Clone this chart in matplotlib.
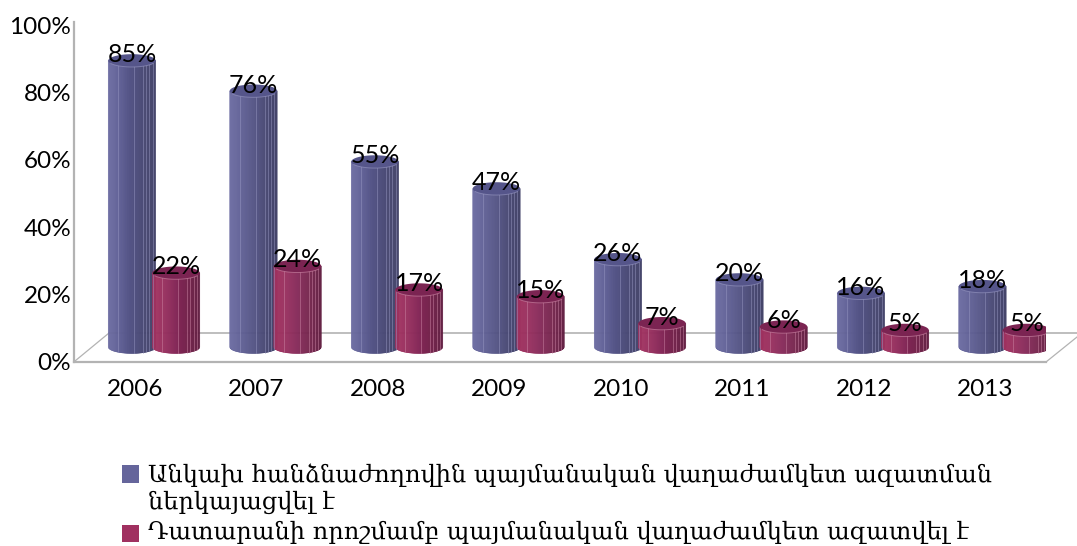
import numpy as np
import matplotlib
matplotlib.use("Agg")
import matplotlib.pyplot as plt
from matplotlib.collections import PolyCollection
from matplotlib.colors import LinearSegmentedColormap
from matplotlib.legend_handler import HandlerPatch
from matplotlib.lines import Line2D
from matplotlib.patches import Patch, Polygon, Rectangle

years = ["2006", "2007", "2008", "2009", "2010", "2011", "2012", "2013"]
commission = [85, 76, 55, 47, 26, 20, 16, 18]
court = [22, 24, 17, 15, 7, 6, 5, 5]
series_names = [
    "Անկախ հանձնաժողովին պայմանական վաղաժամկետ ազատման\nներկայացվել է",
    "Դատարանի որոշմամբ պայմանական վաղաժամկետ ազատվել է",
]

W, H = 1077, 546
fig = plt.figure(figsize=(W / 100, H / 100), dpi=100, facecolor="white")
L, R, T, B = 74, 1046, 22, 362
ax = fig.add_axes([L / W, 1 - B / H, (R - L) / W, (B - T) / H])
ax.patch.set_alpha(0)
ax.set_xlim(-0.5, 7.5)
ax.set_ylim(0, 100.9)

FONT = "Lato"
GREY = "#b3b3b3"
BASE = 4.45      # raised floor of the columns, in axis units
RY = 1.9         # half height of the ellipses, in axis units
WIDTH = 0.39     # column width, in category units
STRIPES = np.linspace(0, 1, 49)
HIGHLIGHTS = [0.21, 0.55, 0.74, 0.80, 0.87, 0.94]

blue = LinearSegmentedColormap.from_list("b", ["#6d6da3", "#5f5f95", "#535384", "#474772", "#3f3f66"])
red = LinearSegmentedColormap.from_list("r", ["#a3315f", "#99305f", "#852858", "#74234c", "#5f1c40"])


def cylinder(cx, value, cmap, top_color, rim):
    rx = WIDTH / 2
    top = BASE + value
    polys, cols = [], []
    fr = np.linspace(0, 1, 7)
    for a, b in zip(STRIPES[:-1], STRIPES[1:]):
        f = a + (b - a) * fr
        u = 2 * f - 1
        xs = cx + rx * u
        low = BASE - RY * np.sqrt(np.clip(1 - u ** 2, 0, 1))
        polys.append(np.r_[np.c_[xs, low], [[xs[-1], top], [xs[0], top]]])
        cols.append(cmap((a + b) / 2))
    ax.add_collection(PolyCollection(polys, facecolors=cols, edgecolors=cols, linewidths=0.4, zorder=3))
    for h in HIGHLIGHTS:
        u = 2 * h - 1
        x = cx + rx * u
        y0 = BASE - RY * np.sqrt(1 - u ** 2)
        ax.plot([x, x], [y0, top], color=rim, lw=0.6, alpha=0.55, zorder=3.1)
    t = np.linspace(0, 2 * np.pi, 80)
    ax.add_patch(Polygon(np.c_[cx + rx * np.cos(t), top + RY * np.sin(t)],
                         closed=True, facecolor=top_color, edgecolor="none", zorder=3.2))
    t2 = np.linspace(np.pi * 1.15, np.pi * 1.85, 30)
    ax.plot(cx + rx * np.cos(t2), top + RY * np.sin(t2), color=rim, lw=0.7, alpha=0.6, zorder=3.3)


x = np.arange(len(years))
for i in x:
    cylinder(i - 0.023, commission[i], blue, "#55558a", "#9a9ac4")
    cylinder(i + 0.34, court[i], red, "#7b2452", "#cf8aa8")
    ax.text(i - 0.023, BASE + commission[i] + 1.7, f"{commission[i]}%", ha="center", va="center",
            family=FONT, fontsize=18, color="black", zorder=5)
    ax.text(i + 0.34, BASE + court[i] + 1.9, f"{court[i]}%", ha="center", va="center",
            family=FONT, fontsize=18, color="black", zorder=5)

ax.set_xticks(x, years)
ax.set_yticks(range(0, 101, 20), [f"{v}%" for v in range(0, 101, 20)])
ax.tick_params(axis="x", length=0, pad=12, labelsize=17.5)
ax.tick_params(axis="y", length=0, pad=2, labelsize=17.5)
for lab in ax.get_xticklabels() + ax.get_yticklabels():
    lab.set_family(FONT)
for s in ("top", "right"):
    ax.spines[s].set_visible(False)
for s in ("left", "bottom"):
    ax.spines[s].set_color(GREY)
    ax.spines[s].set_linewidth(1.6)


def px_line(xs, ys, lw=0.9):
    fig.add_artist(Line2D(np.array(xs) / W, 1 - np.array(ys) / H, color=GREY, lw=lw, zorder=-1,
                          transform=fig.transFigure))


px_line([75, 109], [361, 333])
px_line([109, 1077], [333, 333], 1.2)
px_line([1046, 1077], [362, 337])


def shifted(shift):
    def make(legend, orig_handle, xdescent, ydescent, width, height, fontsize):
        return Rectangle((-xdescent, -ydescent + shift * fontsize), width, height)
    return HandlerPatch(patch_func=make)


handles = [Patch(facecolor="#65659b"), Patch(facecolor="#a03060")]
fig.legend(handles, series_names, loc="upper left", bbox_to_anchor=(122 / W, 1 - 463 / H),
           bbox_transform=fig.transFigure, frameon=False, handlelength=0.72, handleheight=0.72,
           handletextpad=0.35, labelspacing=0.29, borderpad=0, borderaxespad=0,
           prop={"family": "DejaVu Serif", "size": 17.3},
           handler_map={handles[0]: shifted(0.62), handles[1]: shifted(-0.12)})

fig.savefig("out.png", dpi=100)
